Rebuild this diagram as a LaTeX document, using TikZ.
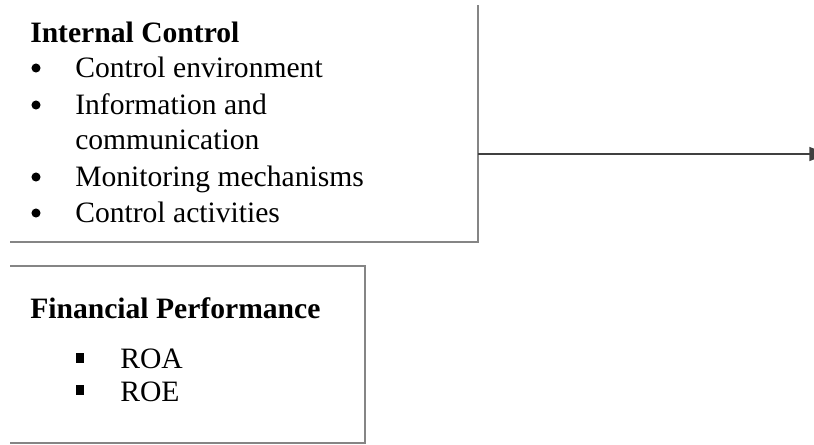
\documentclass[tikz,border=0pt]{standalone}
\usepackage{fontspec}
\setmainfont{Liberation Serif}
\usetikzlibrary{arrows.meta,fit}
\begin{document}
\begin{tikzpicture}[x=0.75pt,y=-0.75pt,
  frame/.style={draw=black!48, line width=1.2pt},
  conn/.style={draw=black!75, line width=1pt, -{Triangle[length=14pt,width=10.5pt]}},
  area/.style={inner sep=0pt, outer sep=0pt},
  txt/.style={anchor=base west, inner sep=0pt, font=\fontsize{22.2}{26}\selectfont},
  head/.style={anchor=base west, inner sep=0pt, font=\fontsize{22.2}{26}\selectfont\bfseries},
  dot/.style={circle, fill=black, minimum size=6.8pt, inner sep=0pt},
  sq/.style={fill=black, minimum width=6.3pt, minimum height=7pt, inner sep=0pt}]
\useasboundingbox (0,0) rectangle (814,444);
\clip (0,0) rectangle (814,444);

% box outlines
\coordinate (icNW) at (10,5);
\coordinate (icSE) at (478,242);
\node[area, fit=(icNW)(icSE)] (ic) {};
\coordinate (fpNW) at (10,266);
\coordinate (fpSE) at (365,443);
\node[area, fit=(fpNW)(fpSE)] (fp) {};

\draw[frame] (ic.north east) -- (ic.south east) -- (ic.south west);
\draw[frame] (fp.north west) -- (fp.north east) -- (fp.south east) -- (fp.south west);

% internal control
\node[head] (icT) at (30,42) {Internal Control};
\node[dot] (b1) at (36,68) {};
\node[txt] (i1) at (75,77) {Control environment};
\node[dot] (b2) at (36,105) {};
\node[txt] (i2) at (75,114) {Information and};
\node[txt] (i2b) at (75,149) {communication};
\node[dot] (b3) at (36,177) {};
\node[txt] (i3) at (75,186) {Monitoring mechanisms};
\node[dot] (b4) at (36,213) {};
\node[txt] (i4) at (75,222) {Control activities};

% financial performance
\node[head] (fpT) at (30,318) {Financial Performance};
\node[sq] (s1) at (80,358) {};
\node[txt] (f1) at (120,368) {ROA};
\node[sq] (s2) at (80,390) {};
\node[txt] (f2) at (120,401) {ROE};

% link
\coordinate (out) at (828,154);
\draw[conn] (ic.east |- out) -- (out);
\end{tikzpicture}
\end{document}
